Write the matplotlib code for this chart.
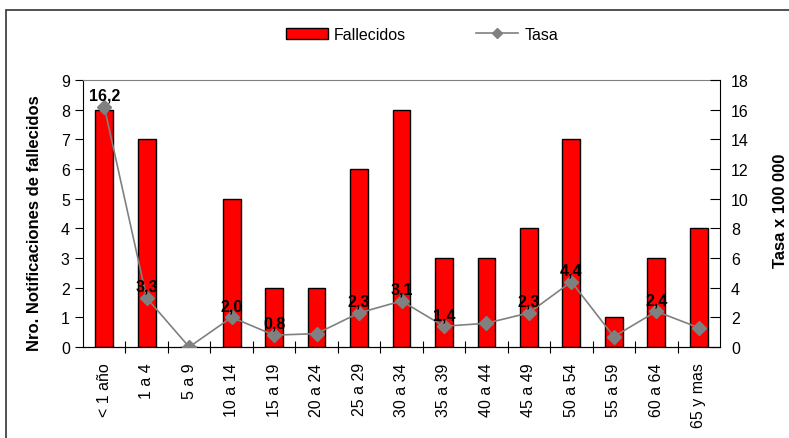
import matplotlib.pyplot as plt
from matplotlib.patches import Rectangle

plt.rcParams['font.family'] = ['Liberation Sans', 'DejaVu Sans']

# age groups, deaths and rate per 100 000
grupos = ['< 1 año', '1 a 4', '5 a 9', '10 a 14', '15 a 19', '20 a 24', '25 a 29',
          '30 a 34', '35 a 39', '40 a 44', '45 a 49', '50 a 54', '55 a 59',
          '60 a 64', '65 y mas']
fallecidos = [8, 7, 0, 5, 2, 2, 6, 8, 3, 3, 4, 7, 1, 3, 4]
tasa = [16.2, 3.3, 0.0, 2.0, 0.8, 0.9, 2.3, 3.1, 1.4, 1.6, 2.3, 4.4, 0.7, 2.4, 1.3]
# which points carry a value label
etiquetar = [True, True, False, True, True, False, True, True, True, False,
             True, True, False, True, False]

fig = plt.figure(figsize=(7.89, 4.39), dpi=100)
ax1 = fig.add_axes([83 / 789, 1 - 348 / 439, (720 - 83) / 789, (348 - 81) / 439])

x = list(range(len(grupos)))
ax1.bar(x, fallecidos, width=0.42, color='#ff0000', edgecolor='black',
        linewidth=1.0, label='Fallecidos', zorder=2)
ax1.set_xlim(-0.5, len(grupos) - 0.5)
ax1.set_ylim(0, 9)
ax1.set_yticks(range(0, 10))
ax1.set_xticks(x)
ax1.set_xticklabels(grupos, rotation=90, fontsize=11.5)
ax1.set_xticks([i + 0.5 for i in x[:-1]], minor=True)
ax1.tick_params(axis='x', which='major', length=0, pad=11)
ax1.tick_params(axis='x', which='minor', direction='inout', length=9, width=0.8)
ax1.tick_params(axis='y', direction='out', length=6, width=0.8, labelsize=11.5)
ax1.set_ylabel('Nro. Notificaciones de fallecidos', fontsize=12, fontweight='bold')
ax1.yaxis.set_label_coords(-41 / 637, (348 - 223) / 267)
ax1.spines['top'].set_color('#808080')
ax1.spines['right'].set_visible(False)

ax2 = ax1.twinx()
ax2.plot(x, tasa, color='#808080', marker='D', markersize=7, linewidth=1.2,
         label='Tasa', zorder=3)
ax2.set_ylim(0, 18)
ax2.set_yticks(range(0, 19, 2))
ax2.tick_params(axis='y', direction='in', length=7, width=0.8, labelsize=11.5, pad=8)
ax2.set_ylabel('Tasa x 100 000', fontsize=12, fontweight='bold')
ax2.yaxis.set_label_coords(1 + 53 / 637, (348 - 211) / 267)
ax2.spines['top'].set_visible(False)
ax2.spines['left'].set_visible(False)

for xi, t, lab in zip(x, tasa, etiquetar):
    if lab:
        ax2.annotate(f'{t:.1f}'.replace('.', ','), (xi, t), xytext=(0, 3),
                     textcoords='offset points', ha='center', va='bottom',
                     fontsize=11.5, fontweight='bold')

h1, l1 = ax1.get_legend_handles_labels()
h2, l2 = ax2.get_legend_handles_labels()
fig.legend(h1 + h2, l1 + l2, loc='center', bbox_to_anchor=(422 / 789, 1 - 35.5 / 439),
           ncol=2, frameon=False, fontsize=11.5, columnspacing=4.4,
           handlelength=2.6, handleheight=0.75, handletextpad=0.4, markerscale=0.8)

# outer frame
fig.patches.append(Rectangle((6 / 789, -0.1), 1.1, 1 - 11 / 439 + 0.1,
                             transform=fig.transFigure, fill=False,
                             edgecolor='#333333', linewidth=1.2))

fig.savefig('out.png', dpi=100)
